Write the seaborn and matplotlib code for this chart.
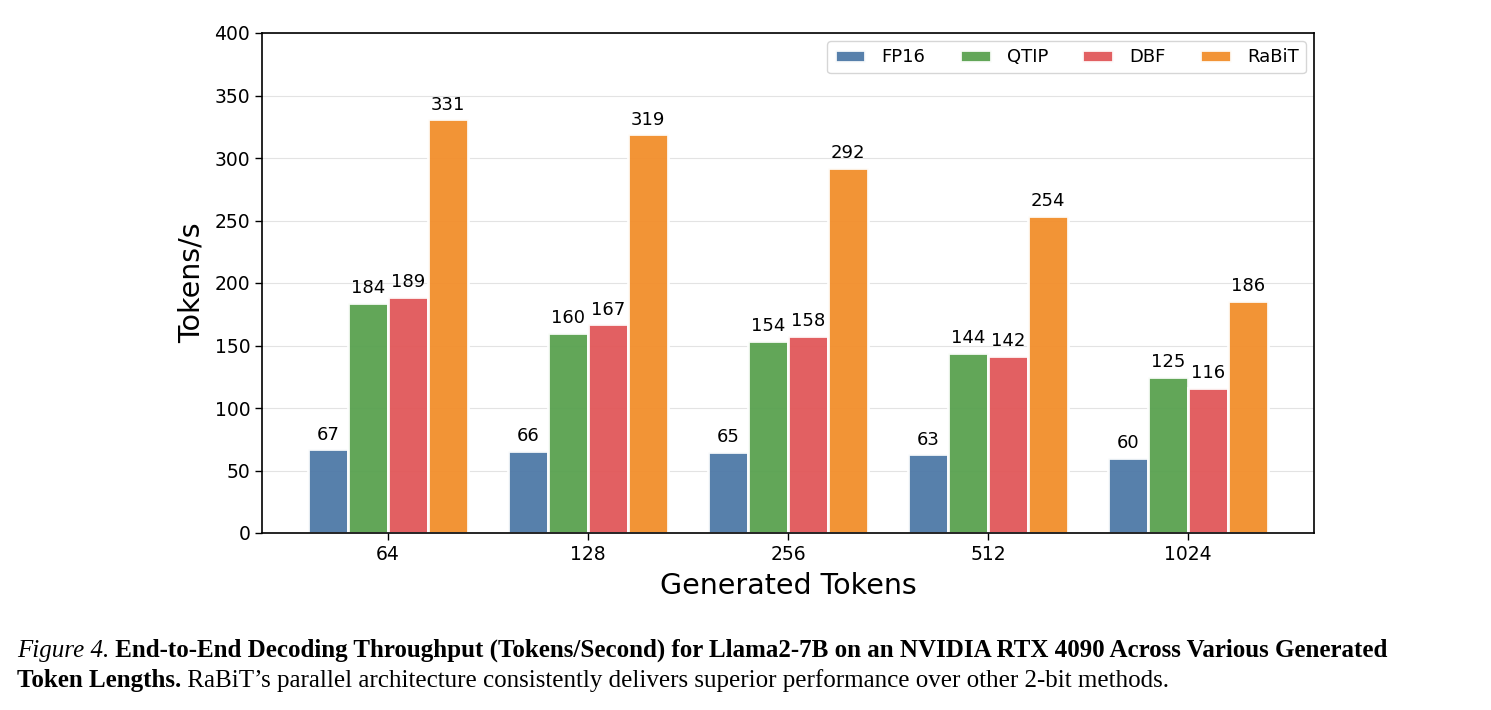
import matplotlib
matplotlib.use("Agg")
import matplotlib.pyplot as plt
import seaborn as sns
import pandas as pd

# values
token_lengths = ["64", "128", "256", "512", "1024"]
methods = ["FP16", "QTIP", "DBF", "RaBiT"]
fp16 = [67, 66, 65, 63, 60]
qtip = [184, 160, 154, 144, 125]
dbf = [189, 167, 158, 142, 116]
rabit = [331, 319, 292, 254, 186]
colors = ["#4E79A7", "#59A14F", "#E15759", "#F28E2B"]

df = pd.DataFrame({
    "tokens": token_lengths * 4,
    "method": [m for m in methods for _ in token_lengths],
    "value": fp16 + qtip + dbf + rabit,
})

sns.set_style("white")
plt.rcParams["font.family"] = ["DejaVu Sans"]
plt.rcParams["text.color"] = "black"
plt.rcParams["axes.labelcolor"] = "black"
plt.rcParams["xtick.color"] = "black"
plt.rcParams["ytick.color"] = "black"

fig = plt.figure(figsize=(14.91, 7.10), dpi=100)
ax = fig.add_axes([262 / 1491, 1 - 533 / 710, 1052 / 1491, 500 / 710])

sns.barplot(data=df, x="tokens", y="value", hue="method", order=token_lengths,
            hue_order=methods, palette=colors, width=0.8, saturation=1,
            edgecolor="white", linewidth=2, alpha=0.95, ax=ax)

for cont in ax.containers:
    ax.bar_label(cont, fmt="%d", padding=4, fontsize=13)

ax.set_ylim(0, 400)
ax.set_xlim(-0.63, 4.63)
ax.set_yticks(range(0, 401, 50))
ax.grid(axis="y", color="#e3e3e3", linewidth=0.8)
ax.set_axisbelow(True)
ax.tick_params(axis="both", labelsize=13.5, direction="out", length=5, width=1,
               left=True, bottom=True)
ax.set_xlabel("Generated Tokens", fontsize=20.5, labelpad=6)
ax.set_ylabel("Tokens/s", fontsize=20.5, labelpad=6)
for s in ax.spines.values():
    s.set_visible(True)
    s.set_color("black")
    s.set_linewidth(1.2)
    s.set_zorder(10)

leg = ax.legend(loc="upper right", ncol=4, fontsize=13, frameon=True,
                handlelength=1.7, handleheight=0.7, handletextpad=0.9,
                columnspacing=1.9, borderpad=0.4, borderaxespad=0,
                fancybox=True, bbox_to_anchor=(0.9924, 0.984))
leg.get_frame().set_edgecolor("#cccccc")
leg.set_title(None)

# caption with mixed styles
caption_lines = [
    [("Figure 4.", "italic", "normal"),
     (" End-to-End Decoding Throughput (Tokens/Second) for Llama2-7B on an NVIDIA RTX 4090 Across Various Generated", "normal", "bold")],
    [("Token Lengths.", "normal", "bold"),
     (" RaBiT\u2019s parallel architecture consistently delivers superior performance over other 2-bit methods.", "normal", "normal")],
]
fig.canvas.draw()
renderer = fig.canvas.get_renderer()
ys = [1 - 657 / 710, 1 - 687 / 710]
for line, y in zip(caption_lines, ys):
    x = 17
    for txt, style, weight in line:
        t = fig.text(x / 1491, y, txt, fontsize=18, family="Liberation Serif",
                     style=style, weight=weight, ha="left", va="baseline")
        bb = t.get_window_extent(renderer)
        x += bb.width

fig.savefig("out.png", dpi=100)
